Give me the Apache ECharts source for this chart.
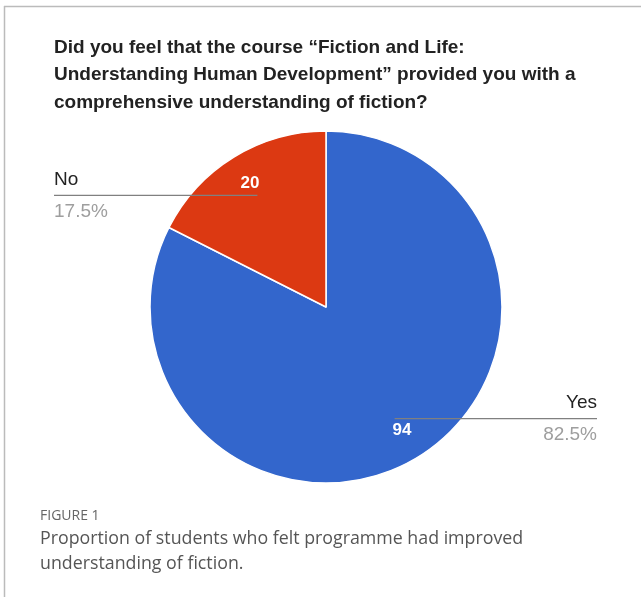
<!DOCTYPE html>
<html>
<head>
<meta charset="utf-8">
<script src="https://cdn.jsdelivr.net/npm/echarts@6/dist/echarts.min.js"></script>
<style>
html,body{margin:0;padding:0;background:#fff;}
#c{width:641px;height:597px;}
</style>
</head>
<body>
<div id="c"></div>
<script>
const categories = ['Yes', 'No'];
const values = [94, 20];
const percentLabels = ['82.5%', '17.5%'];
const colors = ['#3366cc', '#dc3912'];
const titleText = 'Did you feel that the course \u201cFiction and Life:\nUnderstanding Human Development\u201d provided you with a\ncomprehensive understanding of fiction?';
const figureLabel = 'FIGURE 1';
const captionText = 'Proportion of students who felt programme had improved\nunderstanding of fiction.';

const CX = 326, CY = 307, R = 176, ANCHOR_R = 131;
const total = values.reduce((a, b) => a + b, 0);
function midAngle(i) {
  let before = 0;
  for (let k = 0; k < i; k++) before += values[k];
  const mid = before + values[i] / 2;
  return (90 - mid / total * 360) * Math.PI / 180;
}

const data = categories.map((c, i) => ({ name: c, value: values[i], itemStyle: { color: colors[i] } }));

const chart = echarts.init(document.getElementById('c'), null, { renderer: 'canvas' });
chart.setOption({
  animation: false,
  backgroundColor: '#fff',
  title: [
    { text: titleText, left: 49, top: 29,
      textStyle: { fontFamily: 'Liberation Sans, Arial, sans-serif', fontSize: 19, fontWeight: 'bold', color: '#222', lineHeight: 27.5 } },
    { text: figureLabel, left: 35, top: 504,
      textStyle: { fontFamily: 'Open Sans, sans-serif', fontSize: 14, fontWeight: 'normal', color: '#666' } },
    { text: captionText, left: 35, top: 521,
      textStyle: { fontFamily: 'Open Sans, sans-serif', fontSize: 17.8, fontWeight: 'normal', color: '#555', lineHeight: 25 } }
  ],
  graphic: [
    { type: 'line', shape: { x1: 4, y1: 6.5, x2: 641, y2: 6.5 }, style: { stroke: '#bbb', lineWidth: 1.5 } },
    { type: 'line', shape: { x1: 4.5, y1: 6, x2: 4.5, y2: 597 }, style: { stroke: '#bbb', lineWidth: 1.5 } }
  ],
  series: [
    {
      type: 'pie', center: [CX, CY], radius: R, startAngle: 90, clockwise: true, z: 2,
      data: data, silent: true,
      itemStyle: { borderColor: '#fff', borderWidth: 1.5 },
      label: { show: false }, labelLine: { show: false }
    },
    {
      type: 'pie', center: [CX, CY], radius: ANCHOR_R, startAngle: 90, clockwise: true, z: 5,
      data: data.map(d => ({ name: d.name, value: d.value })), silent: true,
      itemStyle: { color: 'rgba(0,0,0,0)' },
      label: {
        show: true, position: 'outside',
        formatter: p => '{n|' + p.name + '}\n{p|' + percentLabels[p.dataIndex] + '}',
        rich: {
          n: { fontFamily: 'Liberation Sans, Arial, sans-serif', fontSize: 19, color: '#222', lineHeight: 32 },
          p: { fontFamily: 'Liberation Sans, Arial, sans-serif', fontSize: 19, color: '#9e9e9e', lineHeight: 32 }
        }
      },
      labelLine: { show: true, lineStyle: { color: '#808080', width: 1.2 } },
      labelLayout: function (params) {
        const a = midAngle(params.dataIndex);
        const ax = CX + ANCHOR_R * Math.cos(a);
        const ay = CY - ANCHOR_R * Math.sin(a);
        const left = ax < CX;
        const ex = left ? 54 : 597;
        return {
          x: ex, y: ay, align: left ? 'left' : 'right', verticalAlign: 'middle',
          labelLinePoints: [[ax, ay], [ax, ay], [ex, ay]]
        };
      }
    },
    {
      type: 'pie', center: [CX, CY], radius: [108, R], startAngle: 90, clockwise: true, z: 6,
      data: data.map(d => ({ name: d.name, value: d.value })), silent: true,
      itemStyle: { color: 'rgba(0,0,0,0)' },
      label: { show: true, position: 'inside', formatter: '{c}', color: '#fff',
        fontFamily: 'Liberation Sans, Arial, sans-serif', fontSize: 17, fontWeight: 'bold' },
      labelLine: { show: false }
    }
  ]
});
</script>
</body>
</html>
